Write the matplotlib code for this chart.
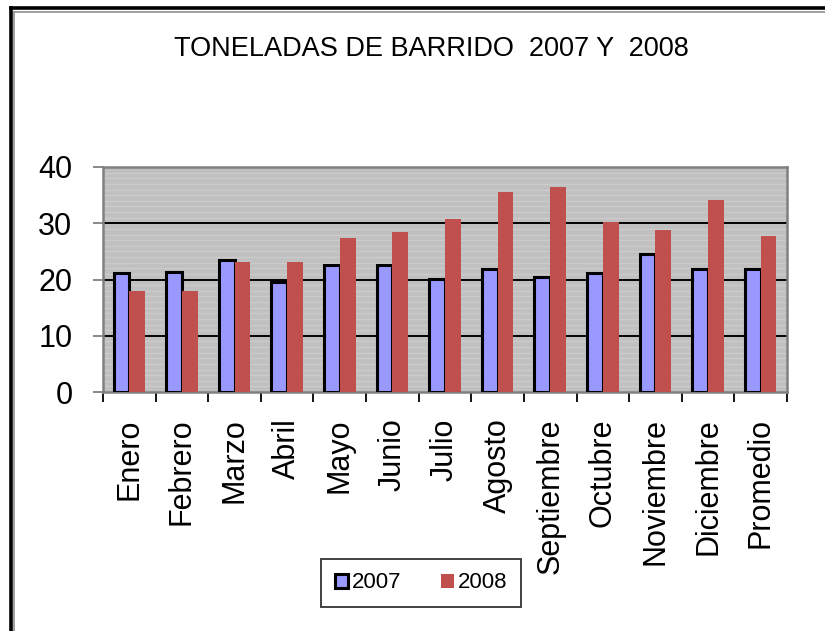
import matplotlib
matplotlib.use("Agg")
import matplotlib.pyplot as plt
import numpy as np
from matplotlib.lines import Line2D
from matplotlib.ticker import FixedLocator

categories = ["Enero", "Febrero", "Marzo", "Abril", "Mayo", "Junio", "Julio",
              "Agosto", "Septiembre", "Octubre", "Noviembre", "Diciembre", "Promedio"]
v2007 = [21.1, 21.4, 23.5, 19.6, 22.5, 22.5, 20.1, 21.9, 20.5, 21.2, 24.5, 21.9, 21.9]
v2008 = [18.0, 18.0, 23.1, 23.1, 27.4, 28.5, 30.8, 35.5, 36.5, 30.2, 28.8, 34.1, 27.7]
yticks = [0, 10, 20, 30, 40]
title = "TONELADAS DE BARRIDO  2007 Y  2008"

regular = ["Liberation Sans", "DejaVu Sans"]

W, H = 825, 631
fig = plt.figure(figsize=(W / 100, H / 100), dpi=100)
fig.patch.set_facecolor("white")

ax = fig.add_axes([103 / W, 1 - 392 / H, (787 - 103) / W, (392 - 167) / H])
ax.set_facecolor("#C0C0C0")

x = np.arange(len(categories))
bw = 0.3
ax.set_xlim(-0.5, len(categories) - 0.5)
ax.set_ylim(0, 40)

# faint stripes
for yv in range(1, 40):
    if yv % 10:
        ax.axhline(yv, color="#CBCBCB", lw=1.0, zorder=0.5)
for yv in [10, 20, 30]:
    ax.axhline(yv, color="black", lw=1.4, zorder=1)

b1 = ax.bar(x - bw / 2, v2007, bw, color="#9999FF", edgecolor="black",
            linewidth=2.2, label="2007", zorder=3)
b2 = ax.bar(x + bw / 2, v2008, bw, color="#C0504D", edgecolor="none",
            label="2008", zorder=3)

# ticks
ax.xaxis.set_major_locator(FixedLocator(np.arange(-0.5, len(categories), 1.0)))
ax.xaxis.set_major_formatter(plt.NullFormatter())
ax.set_xticks(x, minor=True)
ax.set_xticklabels(categories, minor=True, rotation=90, fontsize=22,
                   family=regular, va="top", ha="center")
ax.tick_params(axis="x", which="major", length=7, width=1.3, color="black", direction="out")
ax.tick_params(axis="x", which="minor", length=0, pad=19)

ax.set_yticks(yticks)
ax.set_yticklabels([str(t) for t in yticks], fontsize=22, family=regular)
ax.tick_params(axis="y", which="major", length=7, width=1.3, color="#808080",
               direction="out", pad=15)

for side in ["left", "top", "right", "bottom"]:
    ax.spines[side].set_color("#808080")
    ax.spines[side].set_linewidth(1.8)

fig.text(431 / W, 1 - 49 / H, title, ha="center", va="center",
         fontsize=19.5, family=regular, color="black")

leg = fig.legend(handles=[b1, b2], labels=["2007", "2008"],
                 loc="center", bbox_to_anchor=(421 / W, 1 - 583 / H),
                 ncol=2, frameon=True, fancybox=False, edgecolor="black",
                 prop={"family": regular, "size": 16},
                 handlelength=0.6, handleheight=0.6, handletextpad=0.15,
                 columnspacing=1.8, borderpad=0.6)
leg.get_frame().set_linewidth(1.3)

# figure frame (partial, running off the right/bottom edges)
fig.add_artist(Line2D([10.5 / W, 10.5 / W], [0, 1 - 8 / H], transform=fig.transFigure,
                      color="black", lw=2.6))
fig.add_artist(Line2D([10.5 / W, 1], [1 - 8 / H, 1 - 8 / H], transform=fig.transFigure,
                      color="black", lw=2.6))
fig.add_artist(Line2D([14 / W, 14 / W], [0, 1 - 11.5 / H], transform=fig.transFigure,
                      color="#909090", lw=1.2))
fig.add_artist(Line2D([14 / W, 1], [1 - 11.5 / H, 1 - 11.5 / H], transform=fig.transFigure,
                      color="#909090", lw=1.2))

fig.savefig("out.png", dpi=100)
